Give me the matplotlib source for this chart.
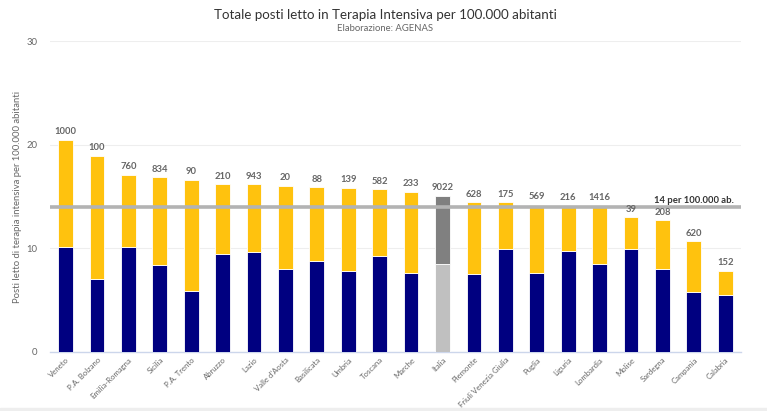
#!/usr/bin/env python3
## Posti letto in terapia intensiva per 100.000 abitanti, per regione

import numpy as np
import matplotlib.pyplot as plt
from matplotlib.patches import Rectangle
plt.rcParams["font.family"] = "Lato"

regioni = ["Veneto", "P.A. Bolzano", "Emilia-Romagna", "Sicilia", "P.A. Trento", "Abruzzo",
           "Lazio", "Valle d'Aosta", "Basilicata", "Umbria", "Toscana", "Marche", "Italia",
           "Piemonte", "Friuli Venezia Giulia", "Puglia", "Liguria", "Lombardia", "Molise",
           "Sardegna", "Campania", "Calabria"]
# parte blu (base) e totale, per 100.000 abitanti
base = [10.13, 7.02, 10.16, 8.41, 5.89, 9.45, 9.61, 7.96, 8.80, 7.80, 9.26, 7.61, 8.45,
        7.48, 9.94, 7.61, 9.74, 8.48, 9.94, 7.96, 5.79, 5.53]
totale = [20.45, 18.90, 17.12, 16.86, 16.63, 16.18, 16.18, 16.05, 15.89, 15.86, 15.70, 15.44,
          15.05, 14.43, 14.43, 14.21, 14.08, 14.08, 12.98, 12.72, 10.68, 7.86]
posti = [1000, 100, 760, 834, 90, 210, 943, 20, 88, 139, 582, 233, 9022,
         628, 175, 569, 216, 1416, 39, 208, 620, 152]
soglia = 14

fig = plt.figure(figsize=(7.67, 4.11), dpi=100)
ax = fig.add_axes([0.065, 0.1436, 0.901, 0.7564])

x = np.arange(len(regioni))
extra = np.array(totale) - np.array(base)
col_base = ["#C0C0C0" if r == "Italia" else "#000080" for r in regioni]
col_top = ["#808080" if r == "Italia" else "#FFC20E" for r in regioni]

ax.bar(x, base, width=0.47, color=col_base, edgecolor="white", linewidth=0.6, zorder=3)
ax.bar(x, extra, bottom=base, width=0.47, color=col_top, edgecolor="white", linewidth=0.6, zorder=3)

for xi, t, p in zip(x, totale, posti):
    ax.text(xi, t + 0.35, str(p), ha="center", va="bottom", fontsize=6.8,
            fontweight="bold", color="#666666", zorder=5)

ax.axhline(soglia, color="#B3B3B3", linewidth=2.6, zorder=4)
ax.text(len(regioni) - 0.72, soglia + 0.2, "14 per 100.000 ab.", ha="right", va="bottom",
        fontsize=6.8, color="#333333", fontweight="bold", zorder=5)

ax.set_xlim(-0.5, len(regioni) - 0.5)
ax.set_ylim(0, 30)
ax.set_yticks([0, 10, 20, 30])
ax.grid(axis="y", color="#EEEEEE", linewidth=0.8, zorder=0)
for s in ["top", "right", "left"]:
    ax.spines[s].set_visible(False)
ax.spines["bottom"].set_color("#CCD6EB")
ax.spines["bottom"].set_linewidth(1)
ax.tick_params(axis="y", length=0, labelsize=6.8, labelcolor="#666666", pad=9)
ax.tick_params(axis="x", length=0, labelsize=5.6, labelcolor="#666666", pad=3)
ax.set_xticks(x)
ax.set_xticklabels(regioni, rotation=45, ha="right", rotation_mode="anchor")
ax.set_ylabel("Posti letto di terapia intensiva per 100.000 abitanti", fontsize=6.8,
              color="#666666")
ax.yaxis.set_label_coords(-0.041, 0.5)

fig.text(0.502, 0.963, "Totale posti letto in Terapia Intensiva per 100.000 abitanti",
         ha="center", va="center", fontsize=9.6, color="#333333")
fig.text(0.502, 0.93, "Elaborazione: AGENAS", ha="center", va="center", fontsize=6.8,
         color="#666666")
fig.patches.append(Rectangle((0, 0), 1, 0.008, transform=fig.transFigure,
                             color="#EEEEEE", zorder=0))

plt.savefig("out.png", dpi=100)
